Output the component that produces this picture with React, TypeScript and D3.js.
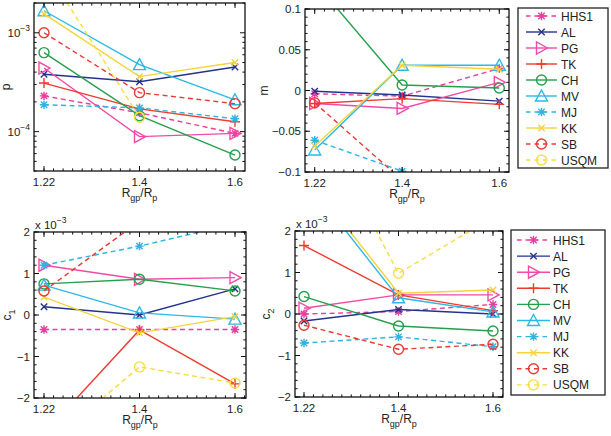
import * as d3 from 'd3';

// x categories and series styling
const ratios = ['1.22', '1.4', '1.6'];
const names = ['HHS1', 'AL', 'PG', 'TK', 'CH', 'MV', 'MJ', 'KK', 'SB', 'USQM'];
const colors = ['#ec3c9c', '#24318f', '#f24aa8', '#ee3b2f', '#24a04c', '#2cb8e6', '#30b3e3', '#f6d33a', '#e93a36', '#f8dd45'];
const markers = ['*', 'x', '>', '+', 'o', '^', '*', 'x', 'o', 'o'];
const dashed = [true, false, false, false, false, false, true, false, true, true];

// one row per series, one column per ratio (null = not shown)
const pData: (number | null)[][] = [
  [2.3e-4, 1.55e-4, 9.6e-5],
  [3.8e-4, 3.2e-4, 4.5e-4],
  [4.4e-4, 8.9e-5, 9.6e-5],
  [3.1e-4, 1.7e-4, 1.26e-4],
  [6.3e-4, 1.45e-4, 5.8e-5],
  [1.67e-3, 4.76e-4, 2.1e-4],
  [1.87e-4, 1.74e-4, 1.35e-4],
  [1.55e-3, 3.6e-4, 5.0e-4],
  [1.0e-3, 2.48e-4, 1.92e-4],
  [4.7e-3, 1.4e-4, null],
];
const mData: (number | null)[][] = [
  [-0.004, -0.007, 0.027],
  [-0.001, -0.0055, -0.013],
  [-0.016, -0.022, 0.01],
  [-0.016, -0.01, -0.017],
  [0.133, 0.0067, 0.003],
  [-0.073, 0.031, 0.031],
  [-0.061, -0.099, null],
  [-0.068, 0.031, 0.026],
  [-0.015, -0.11, null],
  [null, null, null],
];
// c1 and c2 in units of 1e-3
const c1Data: (number | null)[][] = [
  [-0.35, -0.35, -0.35],
  [0.2, 0.0, 0.63],
  [1.2, 0.86, 0.9],
  [-2.86, -0.36, -1.66],
  [0.75, 0.86, 0.58],
  [0.72, 0.05, -0.1],
  [1.2, 1.66, 2.2],
  [0.43, -0.43, -0.04],
  [0.58, 2.26, null],
  [-3.2, -1.25, -1.64],
];
const c2Data: (number | null)[][] = [
  [0.0, 0.06, 0.23],
  [-0.17, 0.11, 0.0],
  [0.14, 0.46, 0.46],
  [1.65, 0.46, 0.08],
  [0.42, -0.29, -0.41],
  [3.28, 0.39, 0.05],
  [-0.7, -0.55, -0.79],
  [3.4, 0.5, 0.58],
  [-0.27, -0.85, -0.73],
  [5.3, 0.98, 2.33],
];

const mTicks = [-0.1, -0.05, 0, 0.05, 0.1];
const cTicks = [-2, -1, 0, 1, 2];
const pTicks = [1e-4, 1e-3];

const font = 'Liberation Sans, Arial, Helvetica, sans-serif';
const fmt = (v: number) => (v < 0 ? '\u2212' : '') + d3.format('')(Math.abs(v));

function markerPath(kind: string, cx: number, cy: number) {
  const p = d3.path();
  if (kind === 'x' || kind === '*') {
    const s = 3.2;
    p.moveTo(cx - s, cy - s); p.lineTo(cx + s, cy + s);
    p.moveTo(cx - s, cy + s); p.lineTo(cx + s, cy - s);
    if (kind === '*') { p.moveTo(cx - 4.2, cy); p.lineTo(cx + 4.2, cy); p.moveTo(cx, cy - 4.2); p.lineTo(cx, cy + 4.2); }
  } else if (kind === '+') {
    const s = 5;
    p.moveTo(cx - s, cy); p.lineTo(cx + s, cy);
    p.moveTo(cx, cy - s); p.lineTo(cx, cy + s);
  } else if (kind === 'o') {
    p.moveTo(cx + 5, cy); p.arc(cx, cy, 5, 0, Math.PI * 2);
  } else if (kind === '^') {
    p.moveTo(cx, cy - 6); p.lineTo(cx + 6, cy + 5); p.lineTo(cx - 6, cy + 5); p.closePath();
  } else if (kind === '>') {
    p.moveTo(cx + 6, cy); p.lineTo(cx - 5, cy - 6); p.lineTo(cx - 5, cy + 6); p.closePath();
  }
  return p.toString();
}

type Cfg = {
  id: string; left: number; right: number; top: number; bottom: number;
  insetL: number; insetR: number; xlim?: [number, number]; log?: boolean; domain: [number, number];
  ticks: number[]; minor: number; data: (number | null)[][];
  yLabel: string; ySub?: string; yLabelX: number; exp?: boolean;
};

const XLabel = ({ cx, y }: { cx: number; y: number }) => (
  <text x={cx} y={y} textAnchor="middle" fontFamily={font} fontSize={12} fill="#222">
    R<tspan fontSize={9} dy={4}>gp</tspan><tspan dy={-4}>/R</tspan><tspan fontSize={9} dy={4}>p</tspan>
  </text>
);

const Panel = ({ cfg }: { cfg: Cfg }) => {
  const { left, right, top, bottom } = cfg;
  // evenly spaced ratios, or a numeric axis when xlim is given
  let xPos: (r: string) => number;
  let xMinor: number[];
  if (cfg.xlim) {
    const lin = d3.scaleLinear().domain(cfg.xlim).range([left, right]);
    xPos = r => lin(+r);
    xMinor = d3.range(cfg.xlim[0], cfg.xlim[1] + 0.001, 0.02).map(v => lin(v));
  } else {
    const pt = d3.scalePoint<string>().domain(ratios).range([left + cfg.insetL, right - cfg.insetR]);
    xPos = r => pt(r)!;
    const step = pt.step();
    const x0 = pt(ratios[0])!;
    xMinor = d3.range(-20, 40).map(k => x0 + (k * step) / 10);
  }
  xMinor = xMinor.filter(v => v > left + 0.5 && v < right - 0.5);

  const y: any = cfg.log
    ? d3.scaleLog().domain(cfg.domain).range([bottom, top])
    : d3.scaleLinear().domain(cfg.domain).range([bottom, top]);
  const line = d3.line<[string, number | null]>()
    .defined(d => d[1] != null)
    .x(d => xPos(d[0]))
    .y(d => y(d[1]!));

  let yMinor: number[];
  if (cfg.log) {
    yMinor = [];
    for (let e = -5; e <= -3; e++) for (let k = 2; k <= 9; k++) {
      const v = k * Math.pow(10, e);
      if (v >= cfg.domain[0] && v <= cfg.domain[1]) yMinor.push(y(v));
    }
  } else {
    yMinor = d3.range(cfg.domain[0], cfg.domain[1] + cfg.minor / 2, cfg.minor).map(v => y(v));
  }
  const tk = 5, mk = 2.6;
  const tickPath = d3.path();
  ratios.forEach(r => {
    const xv = xPos(r);
    tickPath.moveTo(xv, bottom); tickPath.lineTo(xv, bottom - tk);
    tickPath.moveTo(xv, top); tickPath.lineTo(xv, top + tk);
  });
  xMinor.forEach(xv => {
    tickPath.moveTo(xv, bottom); tickPath.lineTo(xv, bottom - mk);
    tickPath.moveTo(xv, top); tickPath.lineTo(xv, top + mk);
  });
  cfg.ticks.forEach(t => {
    const yv = y(t);
    tickPath.moveTo(left, yv); tickPath.lineTo(left + tk, yv);
    tickPath.moveTo(right, yv); tickPath.lineTo(right - tk, yv);
  });
  yMinor.forEach(yv => {
    tickPath.moveTo(left, yv); tickPath.lineTo(left + mk, yv);
    tickPath.moveTo(right, yv); tickPath.lineTo(right - mk, yv);
  });

  const cy = (top + bottom) / 2;
  return (
    <g>
      <defs>
        <clipPath id={cfg.id}>
          <rect x={left} y={top} width={right - left} height={bottom - top} />
        </clipPath>
      </defs>
      <g clipPath={`url(#${cfg.id})`}>
        {cfg.data.map((row, i) => {
          const pts = ratios.map((r, j) => [r, row[j]] as [string, number | null]);
          return (
            <g key={names[i]} stroke={colors[i]} fill="none" strokeWidth={1.4}>
              <path d={line(pts) || ''} strokeDasharray={dashed[i] ? '5,3.5' : undefined} />
              {pts.filter(d => d[1] != null).map(d => (
                <path key={d[0]} d={markerPath(markers[i], xPos(d[0]), y(d[1]!))} />
              ))}
            </g>
          );
        })}
      </g>
      <rect x={left} y={top} width={right - left} height={bottom - top} fill="none" stroke="#111" strokeWidth={1.3} />
      <path d={tickPath.toString()} stroke="#111" strokeWidth={1} fill="none" />
      {ratios.map(r => (
        <text key={r} x={xPos(r)} y={bottom + 15} textAnchor="middle" fontFamily={font} fontSize={11.5} fill="#222">{r}</text>
      ))}
      {cfg.ticks.map(t => (
        cfg.log ? (
          <text key={t} x={left - 4} y={y(t) + 4} textAnchor="end" fontFamily={font} fontSize={11.5} fill="#222">
            10<tspan fontSize={8.5} dy={-6}>{'\u2212' + Math.round(-Math.log10(t))}</tspan>
          </text>
        ) : (
          <text key={t} x={left - 4} y={y(t) + 4} textAnchor="end" fontFamily={font} fontSize={11.5} fill="#222">{fmt(t)}</text>
        )
      ))}
      {cfg.exp && (
        <text x={left + 1} y={top - 3} fontFamily={font} fontSize={11.5} fill="#222">
          x 10<tspan fontSize={8.5} dy={-6}>{'\u22123'}</tspan>
        </text>
      )}
      <text transform={`translate(${cfg.yLabelX},${cy}) rotate(-90)`} textAnchor="middle" fontFamily={font} fontSize={12} fill="#222">
        {cfg.yLabel}{cfg.ySub && <tspan fontSize={9} dy={4}>{cfg.ySub}</tspan>}
      </text>
      <XLabel cx={(left + right) / 2} y={bottom + 26} />
    </g>
  );
};

type LegendCfg = { x: number; y: number; w: number; h: number; row0: number; rowStep: number; l1: number; l2: number; tx: number };

const Legend = ({ cfg }: { cfg: LegendCfg }) => (
  <g>
    <rect x={cfg.x} y={cfg.y} width={cfg.w} height={cfg.h} fill="#fff" stroke="#222" strokeWidth={1.3} />
    {names.map((n, i) => {
      const ry = cfg.row0 + i * cfg.rowStep;
      const mx = (cfg.l1 + cfg.l2) / 2;
      return (
        <g key={n}>
          <g stroke={colors[i]} fill="none" strokeWidth={1.4}>
            <line x1={cfg.l1} x2={cfg.l2} y1={ry} y2={ry} strokeDasharray={dashed[i] ? '4.5,4' : undefined} />
            <path d={markerPath(markers[i], mx, ry)} />
          </g>
          <text x={cfg.tx} y={ry + 4.5} fontFamily={font} fontSize={12} fill="#222">{n}</text>
        </g>
      );
    })}
  </g>
);

const panels: Cfg[] = [
  { id: 'clipP', left: 34, right: 245, top: 3, bottom: 171, insetL: 10, insetR: 10, log: true, domain: [4e-5, 2e-3], ticks: pTicks, minor: 0, data: pData, yLabel: 'p', yLabelX: 10 },
  { id: 'clipM', left: 305, right: 509, top: 9, bottom: 172, insetL: 10, insetR: 8, xlim: [1.2, 1.62], domain: [-0.1, 0.1], ticks: mTicks, minor: 0.01, data: mData, yLabel: 'm', yLabelX: 268 },
  { id: 'clipC1', left: 34, right: 246, top: 232, bottom: 398, insetL: 10, insetR: 11, domain: [-2, 2], ticks: cTicks, minor: 0.2, data: c1Data, yLabel: 'c', ySub: '1', yLabelX: 11, exp: true },
  { id: 'clipC2', left: 295, right: 503, top: 231, bottom: 397, insetL: 9, insetR: 10, domain: [-2, 2], ticks: cTicks, minor: 0.2, data: c2Data, yLabel: 'c', ySub: '2', yLabelX: 270, exp: true },
];

const legends: LegendCfg[] = [
  { x: 518, y: 8, w: 90, h: 160, row0: 16, rowStep: 16, l1: 526, l2: 557, tx: 561 },
  { x: 511, y: 230, w: 94, h: 165, row0: 240, rowStep: 16.1, l1: 517, l2: 550, tx: 553 },
];

export default function App() {
  return (
    <svg width={611} height={436} style={{ position: 'absolute', left: 0, top: 0, background: '#fff' }}>
      <rect width={611} height={436} fill="#fff" />
      {panels.map(p => <Panel key={p.id} cfg={p} />)}
      {legends.map((l, i) => <Legend key={i} cfg={l} />)}
    </svg>
  );
}
